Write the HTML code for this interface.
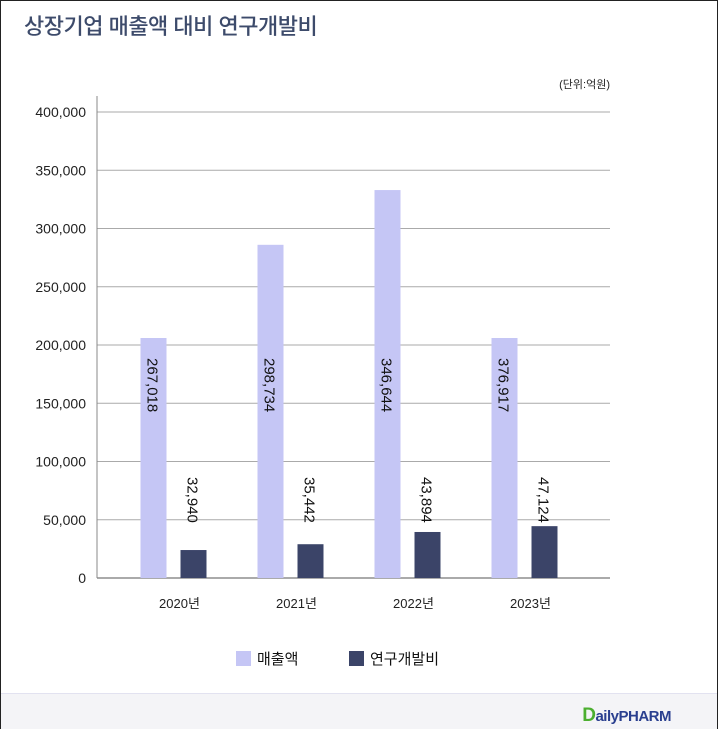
<!DOCTYPE html>
<html><head><meta charset="utf-8"><style>
body{margin:0;width:718px;height:729px;overflow:hidden;background:#fff;font-family:"Liberation Sans","Noto Sans CJK KR",sans-serif}
#frame{position:absolute;left:0;top:0;width:716px;height:727px;border:1px solid #222;}
#title{position:absolute;left:24px;top:9px;font-size:22px;color:#3d4b6b;letter-spacing:-0.5px;font-weight:500}
#footer{position:absolute;left:1px;top:693px;width:716px;height:35px;background:#f4f4f7;border-top:1px solid #e2e2f0}
#logo{position:absolute;right:46px;top:11px;font-weight:bold;font-size:15px;color:#2a3f8f;letter-spacing:-0.5px}
#logo span{color:#4caf30;font-size:19px}
</style></head><body>
<div id="frame"></div>
<div id="title">상장기업 매출액 대비 연구개발비</div>
<svg id="chart" width="718" height="729" style="position:absolute;left:0;top:0"></svg>
<div id="footer"><div id="logo"><span>D</span>ailyPHARM</div></div>
<script>
const categories=["2020년","2021년","2022년","2023년"];
const salesBars=[206000,286000,333000,206000];
const rndBars=[24000,29000,39500,44500];
const salesLabels=["267,018","298,734","346,644","376,917"];
const rndLabels=["32,940","35,442","43,894","47,124"];
const yTicks=[0,50000,100000,150000,200000,250000,300000,350000,400000];
const yTickLabels=["0","50,000","100,000","150,000","200,000","250,000","300,000","350,000","400,000"];
const NS="http://www.w3.org/2000/svg";
const svg=document.getElementById('chart');
const x0=97,x1=610,yb=578,yt=112;
const y=v=>yb-(v/400000)*(yb-yt);
const band=117,start=115;
const cx=i=>start+band*i+band/2;
function mk(t,a,p){const e=document.createElementNS(NS,t);for(const k in a)e.setAttribute(k,a[k]);(p||svg).appendChild(e);return e;}
yTicks.forEach((v,i)=>{
 const g=mk('line',{x1:x0,x2:x1,y1:y(v),y2:y(v),stroke:i==0?'#555':'#aaa','stroke-width':1});
 
 
 const t=mk('text',{x:86,y:y(v)+5,'text-anchor':'end','font-size':14,fill:'#222'});
 t.textContent=yTickLabels[i];
 
 
});
const ax=mk('line',{x1:x0,x2:x0,y1:96,y2:yb,stroke:'#888'});


const u=mk('text',{x:610,y:88,'text-anchor':'end','font-size':11,fill:'#222'});
u.textContent='(단위:억원)';


categories.forEach((c,i)=>{
 const c0=cx(i);
 const b1=mk('rect',{x:c0-33,y:y(salesBars[i]),width:26,height:yb-y(salesBars[i]),fill:'#c5c6f5'});
 
 
 const b2=mk('rect',{x:c0+7,y:y(rndBars[i]),width:26,height:yb-y(rndBars[i]),fill:'#3b4468'});
 
 
 const l1=mk('text',{transform:`translate(${c0-26},358) rotate(90)`,'font-size':15,fill:'#111'});
 l1.textContent=salesLabels[i];
 
 
 const l2=mk('text',{transform:`translate(${c0+14},477) rotate(90)`,'font-size':15,fill:'#111'});
 l2.textContent=rndLabels[i];
 
 
 const xl=mk('text',{x:c0+6,y:608,'text-anchor':'middle','font-size':13,fill:'#222'});
 xl.textContent=c;
 
 
});
[["매출액","#c5c6f5",236],["연구개발비","#3b4468",349]].forEach(d=>{
 const r=mk('rect',{x:d[2],y:651,width:15,height:15,fill:d[1]});
 
 
 const t=mk('text',{x:d[2]+21,y:664,'font-size':15,fill:'#111'});
 t.textContent=d[0];
 
 
});
</script>
</body></html>
